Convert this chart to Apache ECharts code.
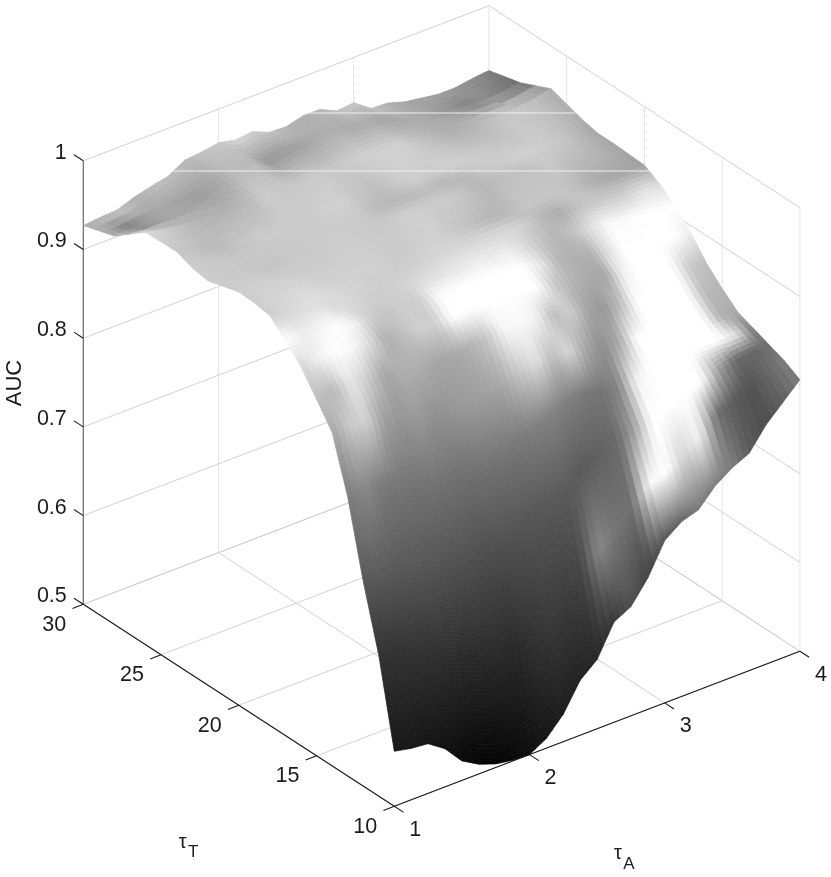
<!DOCTYPE html>
<html>
<head>
<meta charset="utf-8">
<title>AUC surface</title>
<script src="https://cdn.jsdelivr.net/npm/echarts@6/dist/echarts.min.js"></script>
<style>
html,body{margin:0;padding:0;background:#fff}
#chartmain{width:831px;height:877px}
</style>
</head>
<body>
<div id="chartmain"></div>
<script>
// surface grid
var tauA = [1,1.125,1.25,1.375,1.5,1.625,1.75,1.875,2,2.125,2.25,2.375,2.5,2.625,2.75,2.875,3,3.125,3.25,3.375,3.5,3.625,3.75,3.875,4];
var tauT = [10,11,12,13,14,15,16,17,18,19,20,22,23,24,26,28,30];
var auc = [
 [.562,.558,.556,.543,.522,.511,.504,.501,.500,.511,.531,.562,.578,.613,.623,.648,.683,.697,.703,.723,.736,.745,.770,.788,.806],
 [.659,.657,.655,.640,.625,.617,.610,.610,.610,.620,.630,.647,.665,.682,.700,.717,.735,.742,.750,.767,.785,.792,.800,.808,.816],
 [.731,.733,.735,.728,.720,.715,.710,.710,.710,.720,.730,.740,.750,.762,.775,.780,.785,.790,.795,.802,.810,.815,.820,.822,.823],
 [.815,.815,.815,.808,.800,.795,.790,.787,.785,.792,.800,.810,.820,.825,.830,.825,.820,.822,.825,.827,.830,.830,.830,.830,.830],
 [.876,.876,.875,.870,.865,.860,.855,.852,.850,.855,.860,.865,.870,.867,.865,.860,.855,.852,.850,.847,.845,.842,.840,.838,.837],
 [.902,.904,.905,.902,.900,.897,.895,.892,.890,.895,.900,.900,.900,.897,.895,.890,.885,.880,.875,.870,.865,.860,.855,.853,.852],
 [.927,.929,.930,.928,.925,.922,.920,.917,.915,.917,.920,.920,.920,.917,.915,.910,.905,.902,.900,.892,.885,.880,.875,.872,.869],
 [.946,.946,.945,.940,.935,.932,.930,.930,.930,.930,.930,.930,.930,.927,.925,.922,.920,.917,.915,.907,.900,.897,.895,.893,.892],
 [.962,.958,.955,.948,.940,.937,.935,.935,.935,.935,.935,.935,.935,.932,.930,.930,.930,.927,.925,.922,.920,.917,.915,.912,.910],
 [.965,.960,.955,.950,.942,.940,.939,.938,.938,.938,.938,.938,.938,.938,.938,.938,.938,.936,.935,.935,.930,.928,.925,.925,.924],
 [.966,.963,.960,.952,.945,.942,.940,.940,.940,.940,.940,.940,.940,.940,.940,.940,.940,.940,.940,.940,.940,.937,.935,.934,.934],
 [.956,.953,.950,.947,.945,.945,.945,.945,.945,.945,.945,.945,.945,.945,.945,.945,.945,.945,.945,.945,.945,.942,.940,.938,.936],
 [.959,.956,.952,.948,.945,.945,.945,.945,.945,.945,.945,.945,.945,.945,.945,.945,.945,.945,.945,.945,.945,.943,.940,.938,.936],
 [.966,.960,.955,.950,.945,.945,.945,.945,.945,.945,.945,.945,.945,.945,.945,.945,.945,.945,.945,.945,.945,.942,.940,.940,.940],
 [.965,.961,.958,.956,.955,.955,.955,.955,.955,.955,.955,.955,.955,.955,.955,.955,.950,.948,.945,.945,.945,.945,.945,.948,.952],
 [.938,.939,.942,.942,.944,.948,.954,.959,.965,.955,.960,.960,.961,.959,.957,.955,.953,.946,.940,.937,.934,.932,.931,.933,.936],
 [.927,.929,.930,.937,.942,.946,.957,.959,.962,.958,.960,.952,.951,.956,.956,.947,.949,.935,.934,.928,.925,.922,.922,.925,.927]
];
// gray level of each node (lit surface)
var gray = [
 [22,22,20,16,8,5,4,6,12,20,28,32,38,55,80,65,85,100,120,125,125,90,75,95,125],
 [50,50,52,48,45,42,40,42,40,50,58,60,68,135,115,110,250,255,210,240,110,90,80,100,125],
 [88,90,90,88,85,82,80,78,78,82,85,88,90,88,95,105,160,255,255,255,255,160,105,100,110],
 [125,135,122,118,115,115,112,110,112,115,118,125,130,125,120,115,130,240,255,255,255,255,255,225,115],
 [165,200,210,160,150,155,145,150,155,160,170,200,225,190,215,165,140,170,255,255,255,255,255,175,170],
 [190,185,230,205,165,175,175,165,165,175,200,245,250,240,190,205,165,150,190,255,255,255,255,185,180],
 [215,240,255,250,220,175,190,205,205,255,255,255,255,255,255,200,180,170,165,240,255,255,255,200,190],
 [255,235,245,255,245,205,195,205,205,250,255,255,255,255,255,235,185,175,180,220,255,255,255,255,235],
 [205,215,220,225,220,215,205,205,210,220,225,230,235,235,240,220,195,180,195,225,250,250,255,255,255],
 [205,210,215,220,220,215,210,205,205,205,210,215,215,215,215,215,205,185,170,190,200,205,210,225,220],
 [203,208,208,212,212,208,208,208,208,203,203,208,208,198,190,180,185,198,198,198,188,172,167,165,160],
 [203,200,200,196,196,200,200,204,204,204,200,204,208,204,204,198,182,188,193,193,203,193,188,178,165],
 [205,200,200,200,200,200,200,203,203,203,200,185,182,185,188,182,185,198,203,208,208,203,198,182,165],
 [198,193,185,190,198,203,203,203,203,208,208,195,188,198,208,203,208,208,203,198,198,203,198,188,172],
 [218,203,190,180,178,178,185,203,200,200,203,200,203,208,208,208,198,185,175,178,188,198,198,188,172],
 [175,120,150,165,160,155,165,185,185,150,155,160,170,175,170,172,162,170,170,160,145,130,140,125,110],
 [175,195,195,180,190,190,185,195,200,215,205,195,180,175,185,195,200,195,175,165,165,160,150,140,125]
];
var aTicks = [1,2,3,4];
var tTicks = [10,15,20,25,30];
var zTicks = [0.5,0.6,0.7,0.8,0.9,1];
var aLabels = ['1','2','3','4'];
var tLabels = ['10','15','20','25','30'];
var zLabels = ['0.5','0.6','0.7','0.8','0.9','1'];

var SUB_A = 3;
var FONT = '21.5px "Liberation Sans", Arial, sans-serif';
var TEXT = '#1c1c1c';

// fixed orthographic view of the box, result is in the hidden axes' units
function project(a,t,z){
    return [
        394.3 + 135.2*(a-1) - 15.55*(t-10),
        806.3 - 51.7*(a-1) - 10.1*(t-10) - 887*(z-0.5)
    ];
}
function lerp(p,q,f){ return p+(q-p)*f; }
function bil(v00,v10,v01,v11,u,w){ return lerp(lerp(v00,v10,u),lerp(v01,v11,u),w); }

// box lines: [a1,t1,z1,a2,t2,z2,kind]
var boxLines = [];
aTicks.forEach(function(a){
    boxLines.push([a,10,.5,a,30,.5,'grid']);
    if(a>1) boxLines.push([a,30,.5,a,30,1,'dot']);
});
tTicks.forEach(function(t){
    boxLines.push([1,t,.5,4,t,.5,'grid']);
    if(t<30) boxLines.push([4,t,.5,4,t,1,'dot']);
});
zTicks.forEach(function(z){
    boxLines.push([1,30,z,4,30,z,'grid']);
    boxLines.push([4,30,z,4,10,z,'grid']);
});
boxLines.push([1,30,.5,1,30,1,'zaxis']);
boxLines.push([1,30,.5,1,10,.5,'axis']);
boxLines.push([1,10,.5,4,10,.5,'axis']);
aTicks.forEach(function(a){ boxLines.push([a,10,.5,a,9.4,.5,'axis']); });
tTicks.forEach(function(t){ boxLines.push([1,t,.5,.92,t,.5,'axis']); });
zTicks.forEach(function(z){ boxLines.push([1,30,z,1,30.6,z,'axis']); });

var lineStyles = {
    grid:{stroke:'#d2d2d2',lineWidth:1},
    dot:{stroke:'#cccccc',lineWidth:1,lineDash:[1,1]},
    zaxis:{stroke:'#666',lineWidth:1.2},
    axis:{stroke:'#1a1a1a',lineWidth:1.1}
};

function renderLine(params,api){
    var l = boxLines[params.dataIndex];
    var p = api.coord(project(l[0],l[1],l[2]));
    var q = api.coord(project(l[3],l[4],l[5]));
    return {type:'line',shape:{x1:p[0],y1:p[1],x2:q[0],y2:q[1]},style:lineStyles[l[6]],silent:true};
}

// cells back to front: far tauT first, high tauA first
var cells = [];
for(var j=tauT.length-2;j>=0;j--){
    for(var i=tauA.length-2;i>=0;i--){ cells.push([i,j]); }
}
function renderCell(params,api){
    var i = cells[params.dataIndex][0], j = cells[params.dataIndex][1];
    // steep cells need more slices or the shading shows bands
    var h = Math.abs(project(tauA[i],tauT[j],auc[j][i])[1]-project(tauA[i],tauT[j+1],auc[j+1][i])[1]);
    var subT = Math.max(2,Math.ceil(h/4));
    var kids = [];
    for(var n=subT-1;n>=0;n--){
        for(var m=SUB_A-1;m>=0;m--){
            var pts = [[m,n],[m+1,n],[m+1,n+1],[m,n+1]].map(function(c){
                var u=c[0]/SUB_A, w=c[1]/subT;
                return api.coord(project(
                    lerp(tauA[i],tauA[i+1],u),
                    lerp(tauT[j],tauT[j+1],w),
                    bil(auc[j][i],auc[j][i+1],auc[j+1][i],auc[j+1][i+1],u,w)
                ));
            });
            var g = Math.round(bil(gray[j][i],gray[j][i+1],gray[j+1][i],gray[j+1][i+1],(m+.5)/SUB_A,(n+.5)/subT));
            var col = 'rgb('+g+','+g+','+g+')';
            kids.push({type:'polygon',shape:{points:pts},style:{fill:col,stroke:col,lineWidth:.7}});
        }
    }
    return {type:'group',children:kids,silent:true};
}

// tick labels and axis names
var texts = [];
zTicks.forEach(function(z,k){
    var p = project(1,30,z);
    texts.push({p:[p[0]-16.5,p[1]-8],s:zLabels[k],align:'right'});
});
tTicks.forEach(function(t,k){
    var p = project(1,t,.5);
    texts.push({p:[p[0]-29,p[1]+20.5],s:tLabels[k],align:'center'});
});
aTicks.forEach(function(a,k){
    var p = project(a,10,.5);
    texts.push({p:[p[0]+21,p[1]+23.5],s:aLabels[k],align:'center'});
});
texts.push({p:[14.7,383],s:'AUC',align:'center',rot:Math.PI/2,font:'22px "Liberation Sans", Arial, sans-serif'});
texts.push({p:[182.7,842],s:'τ',align:'center',font:'20px "Liberation Sans", Arial, sans-serif'});
texts.push({p:[193.3,852],s:'T',align:'center',font:'17px "Liberation Sans", Arial, sans-serif'});
texts.push({p:[618,853.7],s:'τ',align:'center',font:'20px "Liberation Sans", Arial, sans-serif'});
texts.push({p:[629,864.7],s:'A',align:'center',font:'17px "Liberation Sans", Arial, sans-serif'});

function renderText(params,api){
    var o = texts[params.dataIndex];
    var c = api.coord(o.p);
    return {type:'text',x:c[0],y:c[1],rotation:o.rot||0,silent:true,
        style:{text:o.s,font:o.font||FONT,fill:TEXT,textAlign:o.align,textVerticalAlign:'middle'}};
}

// two pale scan lines that run across the surface
var scanLines = [[305,575,113],[173,650,171]];
function renderScan(params,api){
    var s = scanLines[params.dataIndex];
    var p = api.coord([s[0],s[2]]), q = api.coord([s[1],s[2]]);
    return {type:'line',shape:{x1:p[0],y1:p[1],x2:q[0],y2:q[1]},style:{stroke:'#f0f0f0',lineWidth:1},silent:true};
}

var myChart = echarts.init(document.getElementById("chartmain"));
var option = {
    animation:false,
    backgroundColor:'#fff',
    grid:{left:0,right:0,top:0,bottom:0},
    xAxis:{type:'value',min:0,max:831,show:false},
    yAxis:{type:'value',min:0,max:877,inverse:true,show:false},
    series:[
        {type:'custom',renderItem:renderLine,data:boxLines.map(function(l,k){return [k];}),clip:false,z:1,silent:true},
        {type:'custom',renderItem:renderCell,data:cells.map(function(c,k){return [k];}),clip:false,z:2,silent:true},
        {type:'custom',renderItem:renderScan,data:scanLines.map(function(l,k){return [k];}),clip:false,z:3,silent:true},
        {type:'custom',renderItem:renderText,data:texts.map(function(l,k){return [k];}),clip:false,z:4,silent:true}
    ]
};
myChart.setOption(option);
</script>
</body>
</html>
